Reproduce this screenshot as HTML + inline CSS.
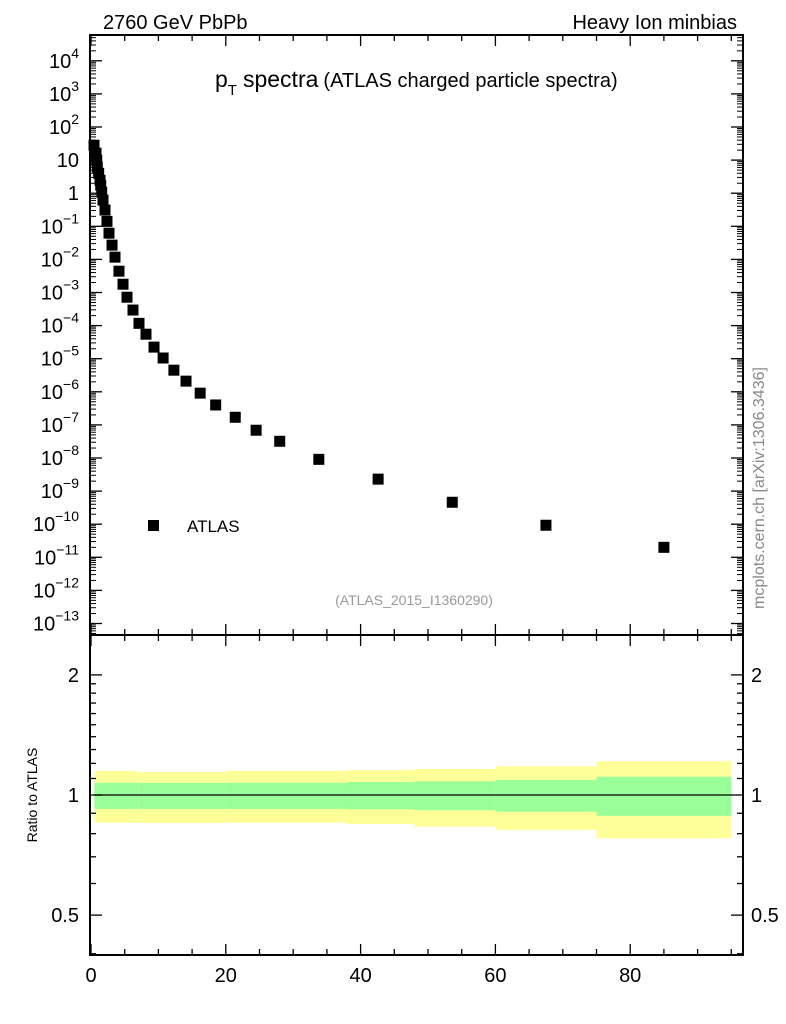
<!DOCTYPE html>
<html><head><meta charset="utf-8"><style>
body{margin:0;background:#fff;}
svg{display:block;font-family:"Liberation Sans",sans-serif;}
</style></head><body>
<svg id="c" width="786" height="1024" xmlns="http://www.w3.org/2000/svg"></svg>
<script>
const ptValues=[0.45,0.74,0.85,0.93,1.14,1.34,1.44,1.59,1.78,2.08,2.37,2.67,3.12,3.56,4.15,4.75,5.34,6.23,7.12,8.16,9.35,10.7,12.3,14.1,16.2,18.5,21.4,24.5,28.0,33.8,42.6,53.6,67.5,85.0];
const yieldValues=[28.2,16.2,10,6.2,4.0,2.45,1.74,1.07,0.62,0.31,0.141,0.062,0.027,0.0117,0.0044,0.00178,7.2e-4,2.95e-4,1.17e-4,5.5e-5,2.24e-5,1.05e-5,4.5e-6,2.1e-6,9.1e-7,4.0e-7,1.7e-7,6.9e-8,3.2e-8,9.1e-9,2.3e-9,4.6e-10,9.3e-11,2.0e-11];
const bandEdges=[0.5,7,20,38,48,60,75,95];
const band2Hi=[1.149,1.142,1.149,1.155,1.162,1.180,1.216];
const band1Hi=[1.073,1.072,1.073,1.078,1.082,1.090,1.111];
const band1Lo=[0.923,0.923,0.923,0.921,0.916,0.908,0.887];
const band2Lo=[0.852,0.851,0.852,0.846,0.833,0.818,0.779];
const xTicks=[0,20,40,60,80];
const yDecades=[4,3,2,1,0,-1,-2,-3,-4,-5,-6,-7,-8,-9,-10,-11,-12,-13];
const ratioTicks=[0.5,1,2];

const NS="http://www.w3.org/2000/svg";
const svg=document.getElementById('c');
const L=90,R=743,T=35,MB=635,RB=955;
const X=v=>91+v*6.74;
const Y=v=>623.5-(Math.log10(v)+13)*33.1;
const RY=v=>795-Math.log10(v)*399;
function el(tag,attrs,parent){const e=document.createElementNS(NS,tag);for(const k in attrs)e.setAttribute(k,attrs[k]);(parent||svg).appendChild(e);return e;}
function txt(x,y,s,attrs){const t=el('text',Object.assign({x:x,y:y},attrs||{}));t.textContent=s;return t;}

for(let i=0;i<band2Hi.length;i++){
  const x0=X(bandEdges[i]),x1=X(bandEdges[i+1]);
  const r1=el('rect',{x:x0,y:RY(band2Hi[i]),width:x1-x0,height:RY(band2Lo[i])-RY(band2Hi[i]),fill:'#ffff99'});
  
  
  const r2=el('rect',{x:x0,y:RY(band1Hi[i]),width:x1-x0,height:RY(band1Lo[i])-RY(band1Hi[i]),fill:'#99ff99'});
  
  
}
el('line',{x1:X(bandEdges[0]),x2:X(bandEdges[bandEdges.length-1]),y1:RY(1),y2:RY(1),stroke:'#000','stroke-width':1.2});

const f1=el('rect',{x:L,y:T,width:R-L,height:MB-T,fill:'none',stroke:'#000','stroke-width':2});

const f2=el('rect',{x:L,y:MB,width:R-L,height:RB-MB,fill:'none',stroke:'#000','stroke-width':2});


for(let v=0;v<=95;v+=5){
  const x=X(v),len=(v%20===0)?11:6;
  [[MB,-1],[RB,-1],[T,1],[MB,1]].forEach(([y,d])=>el('line',{x1:x,x2:x,y1:y,y2:y+d*len,stroke:'#000','stroke-width':1.3}));
}
xTicks.forEach(v=>{const t=txt(X(v),982,String(v),{'font-size':20,'text-anchor':'middle'});
  });

yDecades.forEach(d=>{
  const y=Y(Math.pow(10,d));
  el('line',{x1:L,x2:L+12,y1:y,y2:y,stroke:'#000','stroke-width':1.3});
  el('line',{x1:R,x2:R-12,y1:y,y2:y,stroke:'#000','stroke-width':1.3});
  const t=el('text',{x:79,y:y+7,'font-size':20,'text-anchor':'end'});
  
  t.appendChild(document.createTextNode('10'));
  const s=el('tspan',{dy:-10,'font-size':14},t);s.textContent=d===0?'':String(d).replace('-','\u2212');
  if(d===0){t.textContent='1';}
  if(d===1){t.textContent='10';}
});
for(let d=-14;d<=4;d++){for(let m=2;m<=9;m++){const y=Y(m*Math.pow(10,d));if(y<T||y>MB)continue;
  el('line',{x1:L,x2:L+6,y1:y,y2:y,stroke:'#000','stroke-width':1});
  el('line',{x1:R,x2:R-6,y1:y,y2:y,stroke:'#000','stroke-width':1});}}

[0.4,0.5,0.6,0.7,0.8,0.9,1,1.1,1.2,1.3,1.4,1.5,1.6,1.7,1.8,1.9,2].forEach(v=>{
  const y=RY(v);if(y>RB||y<MB)return;const len=ratioTicks.includes(v)?12:6;
  el('line',{x1:L,x2:L+len,y1:y,y2:y,stroke:'#000','stroke-width':1.3});
  el('line',{x1:R,x2:R-len,y1:y,y2:y,stroke:'#000','stroke-width':1.3});
});
ratioTicks.forEach(v=>{const y=RY(v)+7;
  const a=txt(79,y,String(v),{'font-size':20,'text-anchor':'end'});
  const b=txt(751,y,String(v),{'font-size':20});});

ptValues.forEach((p,i)=>{const m=el('rect',{x:X(p)-5.5,y:Y(yieldValues[i])-5.5,width:11,height:11,fill:'#000'});
  });

let t;
t=txt(103,29,'2760 GeV PbPb',{'font-size':20});
t=txt(737,29,'Heavy Ion minbias',{'font-size':20,'text-anchor':'end'});
t=el('text',{x:215,y:87,'font-size':23});
t.appendChild(document.createTextNode('p'));
let s=el('tspan',{dy:8,'font-size':15},t);s.textContent='T';
s=el('tspan',{dy:-8,dx:6},t);s.textContent='spectra';
s=el('tspan',{dx:5,'font-size':20},t);s.textContent='(ATLAS charged particle spectra)';
const lm=el('rect',{x:148,y:520,width:11,height:11,fill:'#000'});
t=txt(187,532,'ATLAS',{'font-size':17});
t=txt(414,605,'(ATLAS_2015_I1360290)',{'font-size':14,'text-anchor':'middle',fill:'#999'});
t=txt(0,0,'mcplots.cern.ch [arXiv:1306.3436]',{'font-size':16,'text-anchor':'middle',fill:'#888',transform:'translate(764,488) rotate(-90)'});
t=txt(0,0,'Ratio to ATLAS',{'font-size':14,'text-anchor':'middle',transform:'translate(37,795) rotate(-90)'});
</script>
</body></html>
